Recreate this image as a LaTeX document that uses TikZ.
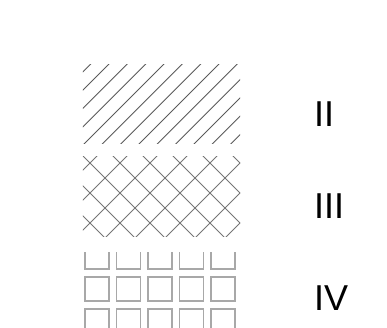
\documentclass[tikz,border=0pt]{standalone}
\usepackage{fontspec}
\setmainfont{Liberation Sans}
\usepackage{xcolor}
\usepackage{tikz}
\usetikzlibrary{positioning,calc}
\definecolor{hatchgray}{HTML}{5A5A5A}
\definecolor{crossgray}{HTML}{757575}
\definecolor{boxgray}{HTML}{A8A8A8}
\tikzstyle{region}   =[rectangle, draw=none, inner sep=0pt, minimum width=157pt,
                        minimum height=79pt]
\tikzstyle{hatchline}=[draw=hatchgray, line width=0.9pt]
\tikzstyle{crossline}=[draw=crossgray, line width=0.9pt]
\tikzstyle{cell}     =[draw=boxgray, line width=1.8pt]
\tikzstyle{label}    =[anchor=west, inner sep=0pt, font=\fontsize{36}{40}\selectfont]

\begin{document}
\begin{tikzpicture}[x=1pt, y=-1pt]
  \useasboundingbox (0,0) rectangle (387,328);

  % ── regions ────────────────────────────────────────────────────────────────
  \node[region] (hatch) at (161.5, 104)   {};
  \node[region] (cross) at (161.5, 196.5) {};
  \node[region] (grid)  at (161.5, 292)   {};

  % ── labels ─────────────────────────────────────────────────────────────────
  \node[label] (lblII)  at (314, 114) {II};
  \node[label] (lblIII) at (314, 206) {III};
  \node[label] (lblIV)  at (314, 298) {IV};

  % ── single hatch ───────────────────────────────────────────────────────────
  \begin{scope}
    \clip (hatch.south west) rectangle (hatch.north east);
    \foreach \k in {-5,...,9} {
      \pgfmathsetmacro\c{228+18.33*\k}
      \draw[hatchline] (\c-40,40) -- (\c-170,170);
    }
  \end{scope}

  % ── cross hatch ────────────────────────────────────────────────────────────
  \begin{scope}
    \clip (cross.south west) rectangle (cross.north east);
    \foreach \k in {-2,...,9} {
      \pgfmathsetmacro\c{253+30*\k}
      \draw[crossline] (\c-140,140) -- (\c-260,260);
    }
    \foreach \k in {-4,...,6} {
      \pgfmathsetmacro\c{-73+30*\k}
      \draw[crossline] (\c+140,140) -- (\c+260,260);
    }
  \end{scope}

  % ── squares (top row cut off) ──────────────────────────────────────────────
  \begin{scope}
    \clip ($(grid.north west)+(0,0)$) rectangle (grid.south east);
    \foreach \i in {0,...,4}
      \foreach \j in {0,1,2}
        \draw[cell] (85+31.5*\i, 245+32*\j) rectangle +(24,24);
  \end{scope}

\end{tikzpicture}
\end{document}
